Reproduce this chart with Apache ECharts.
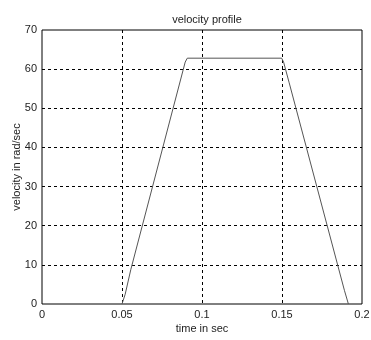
<!DOCTYPE html>
<html>
<head>
<meta charset="utf-8">
<script src="https://cdn.jsdelivr.net/npm/echarts@6/dist/echarts.min.js"></script>
<style>
  html, body { margin: 0; padding: 0; background: #fff; }
  #chart { width: 371px; height: 340px; }
</style>
</head>
<body>
<div id="chart"></div>
<script>
// 速度曲线数据
const timeSec = [0.05, 0.052, 0.0555, 0.0895, 0.0908, 0.1498, 0.151, 0.1545, 0.189, 0.1915];
const velocity = [0, 2.5, 8.8, 61.8, 62.8, 62.8, 61.8, 56.5, 3.5, 0];

const xTicks = [0, 0.05, 0.1, 0.15, 0.2];
const yTicks = [0, 10, 20, 30, 40, 50, 60, 70];

const chart = echarts.init(document.getElementById('chart'));

const font = 'Liberation Sans, Arial, sans-serif';

// 网格虚线，不画在边框上
const dashed = {
    show: true,
    showMinLine: false,
    showMaxLine: false,
    lineStyle: { color: '#000', width: 1, type: [3, 3] }
};

const option = {
    animation: false,
    backgroundColor: '#fff',
    title: {
        text: 'velocity profile',
        left: 202,
        top: 9,
        textAlign: 'center',
        textStyle: { fontFamily: font, fontSize: 11, fontWeight: 'normal', color: '#222' }
    },
    grid: {
        left: 42,
        right: 9,
        top: 30,
        bottom: 36,
        containLabel: false,
        outerBoundsMode: 'none',
        show: true,
        borderColor: '#000',
        borderWidth: 1
    },
    xAxis: {
        type: 'value',
        min: xTicks[0],
        max: xTicks[xTicks.length - 1],
        interval: 0.05,
        name: 'time in sec',
        nameLocation: 'middle',
        nameGap: 19,
        nameMoveOverlap: false,
        nameTextStyle: { fontFamily: font, fontSize: 11, color: '#222' },
        axisLine: { show: false },
        axisTick: { show: false },
        axisLabel: { fontFamily: font, fontSize: 11, color: '#222', margin: 5 },
        splitLine: dashed
    },
    yAxis: {
        type: 'value',
        min: yTicks[0],
        max: yTicks[yTicks.length - 1],
        interval: 10,
        name: 'velocity in rad/sec',
        nameLocation: 'middle',
        nameGap: 20,
        nameMoveOverlap: false,
        nameTextStyle: { fontFamily: font, fontSize: 11, color: '#222' },
        axisLine: { show: false },
        axisTick: { show: false },
        axisLabel: { fontFamily: font, fontSize: 11, color: '#222', margin: 5 },
        splitLine: dashed
    },
    series: [{
        type: 'line',
        data: timeSec.map((t, i) => [t, velocity[i]]),
        showSymbol: false,
        lineStyle: { color: '#555', width: 1 }
    }]
};

chart.setOption(option);
</script>
</body>
</html>
